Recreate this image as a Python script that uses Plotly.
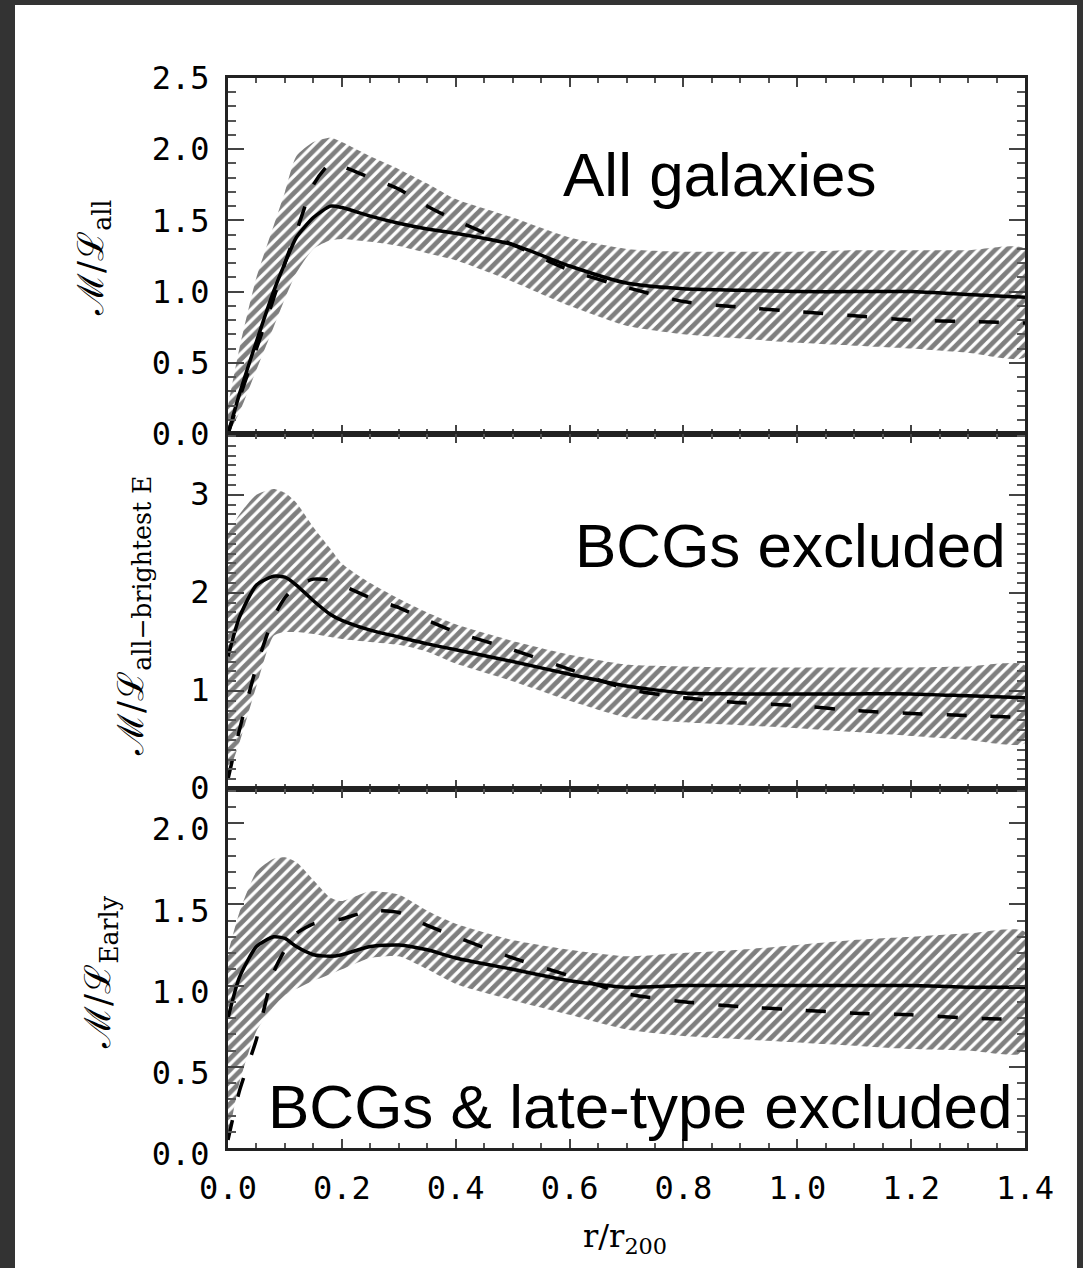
import plotly.graph_objects as go

# ---------------- data ----------------
r = [0.0, 0.02, 0.05, 0.08, 0.10, 0.12, 0.15, 0.18, 0.20, 0.25, 0.30, 0.35,
     0.40, 0.50, 0.60, 0.70, 0.80, 0.90, 1.00, 1.10, 1.20, 1.30, 1.40]

# Panel 1: all galaxies
all_upper = [0.20, 0.60, 1.10, 1.46, 1.70, 1.95, 2.05, 2.08, 2.05, 1.95, 1.86, 1.76,
             1.65, 1.52, 1.38, 1.30, 1.28, 1.28, 1.28, 1.29, 1.29, 1.29, 1.30]
all_lower = [0.00, 0.15, 0.45, 0.75, 0.95, 1.13, 1.30, 1.36, 1.37, 1.35, 1.32, 1.27,
             1.22, 1.07, 0.90, 0.76, 0.70, 0.67, 0.64, 0.62, 0.60, 0.57, 0.54]
all_solid = [0.00, 0.28, 0.65, 1.00, 1.20, 1.38, 1.52, 1.60, 1.59, 1.53, 1.48, 1.44,
             1.41, 1.33, 1.18, 1.06, 1.02, 1.01, 1.00, 1.00, 1.00, 0.98, 0.96]
all_dashed = [0.00, 0.25, 0.60, 0.95, 1.20, 1.42, 1.75, 1.90, 1.88, 1.80, 1.72, 1.60,
              1.50, 1.33, 1.15, 1.03, 0.93, 0.89, 0.86, 0.83, 0.80, 0.79, 0.78]

# Panel 2: BCGs excluded
nobcg_upper = [2.60, 2.80, 3.00, 3.06, 3.02, 2.92, 2.67, 2.45, 2.30, 2.10, 1.94, 1.80,
               1.68, 1.51, 1.37, 1.27, 1.25, 1.24, 1.24, 1.24, 1.24, 1.25, 1.26]
nobcg_lower = [0.15, 0.47, 1.05, 1.56, 1.60, 1.60, 1.58, 1.55, 1.53, 1.50, 1.47, 1.40,
               1.28, 1.10, 0.90, 0.73, 0.68, 0.65, 0.62, 0.58, 0.54, 0.50, 0.47]
nobcg_solid = [1.35, 1.75, 2.08, 2.17, 2.16, 2.08, 1.92, 1.78, 1.72, 1.62, 1.55, 1.48,
               1.42, 1.30, 1.17, 1.05, 0.98, 0.97, 0.97, 0.97, 0.97, 0.95, 0.93]
nobcg_dashed = [0.10, 0.60, 1.25, 1.75, 1.95, 2.07, 2.14, 2.13, 2.08, 1.95, 1.85, 1.72,
                1.60, 1.42, 1.22, 1.02, 0.93, 0.88, 0.85, 0.80, 0.77, 0.75, 0.73]

# Panel 3: BCGs & late-type excluded
early_upper = [1.20, 1.45, 1.70, 1.78, 1.79, 1.76, 1.65, 1.54, 1.52, 1.58, 1.56, 1.46,
               1.38, 1.28, 1.22, 1.18, 1.20, 1.22, 1.25, 1.28, 1.30, 1.32, 1.33]
early_lower = [0.05, 0.40, 0.72, 0.87, 0.94, 0.98, 1.03, 1.07, 1.10, 1.17, 1.18, 1.10,
               1.01, 0.91, 0.82, 0.73, 0.69, 0.67, 0.65, 0.63, 0.61, 0.60, 0.59]
early_solid = [0.80, 1.05, 1.24, 1.30, 1.29, 1.24, 1.19, 1.18, 1.19, 1.24, 1.25, 1.22,
               1.17, 1.10, 1.03, 0.99, 1.00, 1.00, 1.00, 1.00, 1.00, 0.99, 0.99]
early_dashed = [0.05, 0.35, 0.67, 1.08, 1.22, 1.32, 1.38, 1.40, 1.41, 1.46, 1.45, 1.37,
                1.30, 1.17, 1.06, 0.95, 0.90, 0.87, 0.85, 0.83, 0.82, 0.80, 0.79]

panel_labels = ["All galaxies", "BCGs excluded", "BCGs & late-type excluded"]
y_titles = ["ℳ/ℒ<sub>all</sub>", "ℳ/ℒ<sub>all−brightest E</sub>", "ℳ/ℒ<sub>Early</sub>"]
y_ranges = [[0, 2.5], [0, 3.62], [0, 2.21]]
y_dticks = [0.5, 1, 0.5]
y_formats = [".1f", "d", ".1f"]
y_label_shift = [0, -1, 6]
x_ticks = [0.0, 0.2, 0.4, 0.6, 0.8, 1.0, 1.2, 1.4]

panels = [
    (all_upper, all_lower, all_solid, all_dashed),
    (nobcg_upper, nobcg_lower, nobcg_solid, nobcg_dashed),
    (early_upper, early_lower, early_solid, early_dashed),
]

# ---------------- figure ----------------
W, H = 1083, 1268
ML, MR, MT, MB = 228, 58, 78, 120
PW, PH = W - ML - MR, H - MT - MB


def px_x(p):
    return (p - ML) / PW


def px_y(p):
    return (H - MB - p) / PH


domains = [[px_y(434), 1.0], [px_y(789), px_y(434)], [0.0, px_y(789)]]

fig = go.Figure()
axis_ids = ["", "2", "3"]
for i, (up, lo, so, da) in enumerate(panels):
    xa = "x" + axis_ids[i]
    ya = "y" + axis_ids[i]
    fig.add_trace(go.Scatter(
        x=r + r[::-1], y=up + lo[::-1], mode="lines", fill="toself",
        line=dict(width=0, color="rgba(0,0,0,0)", shape="spline", smoothing=0.6),
        fillcolor="rgba(255,255,255,0)",
        fillpattern=dict(shape="/", fgcolor="black", bgcolor="rgba(255,255,255,0)",
                         size=8, solidity=0.6),
        xaxis=xa, yaxis=ya, showlegend=False, hoverinfo="skip"))
    fig.add_trace(go.Scatter(
        x=r, y=so, mode="lines",
        line=dict(color="black", width=3.5, shape="spline", smoothing=0.6),
        xaxis=xa, yaxis=ya, showlegend=False))
    fig.add_trace(go.Scatter(
        x=r, y=da, mode="lines",
        line=dict(color="black", width=3.5, dash="20px,24px", shape="spline", smoothing=0.6),
        xaxis=xa, yaxis=ya, showlegend=False))

tickfont = dict(family="DejaVu Sans Mono", size=32, color="black")
common_x = dict(range=[0, 1.4], tickvals=x_ticks, ticks="inside", ticklen=9, tickwidth=2,
                tickcolor="#444444", showline=True, linecolor="#222222", linewidth=3,
                mirror="ticks", showgrid=False, zeroline=False,
                minor=dict(dtick=0.05, ticks="inside", ticklen=5, tickwidth=2,
                           tickcolor="#555555", showgrid=False),
                tickfont=tickfont, tickformat=".1f", ticklabelstandoff=10)
layout = dict(
    width=W, height=H, margin=dict(l=ML, r=MR, t=MT, b=MB),
    paper_bgcolor="#333333", plot_bgcolor="white", showlegend=False,
)
for i in range(3):
    sfx = "" if i == 0 else str(i + 1)
    xa = dict(common_x, anchor="y" + sfx, domain=[0, 1], showticklabels=(i == 2))
    if i > 0:
        xa["matches"] = "x"
    ya = dict(range=y_ranges[i], dtick=y_dticks[i], tick0=0, tickformat=y_formats[i],
              ticks="inside", ticklen=16, tickwidth=2, tickcolor="#444444",
              showline=True, linecolor="#222222", linewidth=3, mirror="ticks",
              showgrid=False, zeroline=False, domain=domains[i], anchor="x" + sfx,
              minor=dict(dtick=0.1, ticks="inside", ticklen=8, tickwidth=2,
                         tickcolor="#555555", showgrid=False),
              tickfont=tickfont, ticklabelstandoff=9, ticklabelshift=y_label_shift[i])
    layout["xaxis" + sfx] = xa
    layout["yaxis" + sfx] = ya

fig.update_layout(**layout)

# white page inside the dark frame
fig.add_shape(type="rect", xref="paper", yref="paper",
              x0=px_x(15), x1=px_x(1077), y0=px_y(1300), y1=px_y(5),
              fillcolor="white", line=dict(width=0), layer="below")

label_pos = [(720, 175), (790, 545), (640, 1106)]
for txt, (cx, cy) in zip(panel_labels, label_pos):
    fig.add_annotation(text=txt, x=px_x(cx), y=px_y(cy), xref="paper", yref="paper",
                       showarrow=False, xanchor="center", yanchor="middle",
                       font=dict(family="Liberation Sans", size=62, color="black"))

title_pos = [(93, 258), (133, 616), (100, 972)]
for txt, (cx, cy) in zip(y_titles, title_pos):
    fig.add_annotation(text=txt, x=px_x(cx), y=px_y(cy), xref="paper", yref="paper",
                       showarrow=False, xanchor="center", yanchor="middle", textangle=-90,
                       font=dict(family="DejaVu Serif", size=36, color="black"))

fig.add_annotation(text="r/r<sub>200</sub>", x=px_x(625), y=px_y(1238), xref="paper",
                   yref="paper", showarrow=False, xanchor="center", yanchor="middle",
                   font=dict(family="DejaVu Serif", size=32, color="black"))

fig.write_html("out.html",
               config={"displayModeBar": False},
               post_script="document.body.style.margin='0px';"
                           "document.body.style.background='#333333';")
